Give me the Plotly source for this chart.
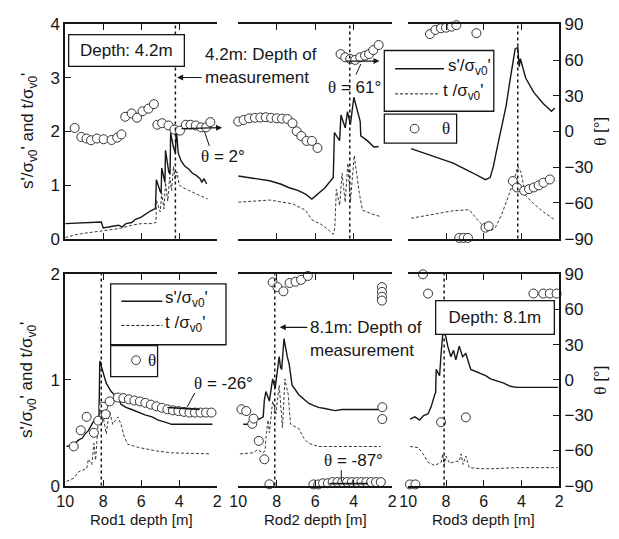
import plotly.graph_objects as go

W, H = 619, 539

# ------------------------------------------------------------------ data
MEAS_TOP = 4.2          # depth of measurement, upper row [m]
MEAS_BOT = 8.1          # depth of measurement, lower row [m]

DEPTH_TICKS = [10, 8, 6, 4, 2]
TOP_Y_TICKS = [0, 1, 2, 3, 4]
BOT_Y_TICKS = [0, 1, 2]
THETA_TICKS = [90, 60, 30, 0, -30, -60, -90]
ROD_LABELS = ["Rod1 depth [m]", "Rod2 depth [m]", "Rod3 depth [m]"]

# ---- upper row (depth 4.2 m) ----
top1_s_depth = [10.0, 9.0, 8.1, 8.0, 7.6, 7.2, 7.0, 6.8, 6.5, 6.3, 6.0, 5.8, 5.5, 5.25, 5.2, 5.0, 4.95, 4.92,
                4.75, 4.72, 4.55, 4.48, 4.45, 4.3, 4.2, 4.15, 4.05, 3.9, 3.7, 3.5, 3.3, 3.1, 2.9, 2.8, 2.7, 2.55]
top1_s = [0.28, 0.30, 0.31, 0.20, 0.22, 0.25, 0.22, 0.28, 0.30, 0.36, 0.40, 0.45, 0.52, 0.56, 1.10, 0.88, 0.85, 1.32,
          1.05, 1.65, 1.25, 1.20, 1.98, 1.70, 1.60, 2.05, 1.60, 1.45, 1.35, 1.30, 1.22, 1.18, 1.12, 1.05, 1.12, 1.02]
top1_t_depth = [10.0, 9.5, 9.0, 8.5, 8.0, 7.5, 7.0, 6.5, 6.0, 5.5, 5.22, 5.2, 5.0, 4.92, 4.8, 4.72, 4.6, 4.5,
                4.4, 4.3, 4.22, 4.12, 4.0, 3.8, 3.5, 3.2, 2.8, 2.5]
top1_t = [0.02, 0.07, 0.10, 0.12, 0.15, 0.17, 0.20, 0.25, 0.28, 0.28, 0.30, 0.72, 0.50, 0.85, 0.55, 1.05, 0.70, 1.15,
          0.90, 1.35, 1.10, 1.25, 1.00, 0.95, 0.90, 0.85, 0.78, 0.74]
top1_th_depth = [9.5, 9.15, 8.88, 8.64, 8.33, 7.98, 7.56, 7.26, 7.04, 6.84, 6.5, 6.22, 5.93, 5.62, 5.33, 5.15,
                 4.9, 4.56, 4.25, 3.96, 3.65, 3.4, 3.13, 2.84, 2.58, 2.36]
top1_th = [3, -4.6, -5.9, -7.3, -5.9, -6.5, -7.1, -5.1, -2.4, 12.4, 15.2, 11.6, 17, 19.2, 23, 5.7,
           7, 5.1, 1.6, 0.8, 5.7, 5.7, 5.1, 3.5, 3.5, 7.9]

top2_s_depth = [10.0, 9.2, 8.37, 7.8, 7.35, 6.9, 6.5, 6.17, 5.9, 5.49, 5.06, 5.0, 4.73, 4.66, 4.44, 4.32, 4.17,
                3.99, 3.66, 3.63, 3.29, 2.95, 2.7]
top2_s = [1.17, 1.12, 1.08, 1.02, 0.95, 0.90, 0.83, 0.74, 0.83, 0.95, 1.14, 1.98, 1.83, 2.31, 2.07, 2.37, 2.13,
          2.64, 2.19, 1.92, 1.83, 1.71, 1.72]
top2_t_depth = [10.0, 8.37, 7.18, 6.5, 6.17, 5.66, 5.24, 5.06, 4.98, 4.9, 4.73, 4.6, 4.44, 4.3, 4.17, 3.97,
                3.71, 3.54, 3.12, 2.6]
top2_t = [0.68, 0.72, 0.65, 0.53, 0.35, 0.26, 0.14, 0.08, 0.20, 0.92, 0.62, 1.22, 0.68, 1.41, 0.68, 1.55,
          0.86, 0.53, 0.47, 0.41]
top2_th_depth = [10.0, 9.72, 9.43, 9.13, 8.85, 8.57, 8.29, 8.0, 7.72, 7.44, 7.18, 6.96, 6.72, 6.45, 6.17, 5.88,
                 4.68, 4.44, 4.18, 3.92, 3.66, 3.41, 3.2, 2.98, 2.7]
top2_th = [8.4, 9.7, 11.1, 11.5, 11.8, 12, 11.5, 11.1, 10.8, 10.5, 7, 0.2, -3.8, -7.9, -7.9, -13.8,
           65.1, 62.4, 61, 60.2, 62.4, 63.8, 65.1, 68.4, 72.7]

top3_s_depth = [9.85, 8.82, 7.62, 6.6, 5.91, 5.66, 5.49, 5.32, 5.06, 4.81, 4.63, 4.46, 4.34, 4.2, 4.12, 4.06,
                3.78, 3.35, 2.84, 2.41, 2.24]
top3_s = [1.68, 1.56, 1.41, 1.23, 1.10, 1.14, 1.35, 1.65, 2.07, 2.49, 2.91, 3.27, 3.54, 3.57, 3.21, 3.36,
          3.0, 2.73, 2.52, 2.38, 2.44]
top3_t_depth = [9.85, 8.82, 7.62, 6.77, 6.26, 5.91, 5.66, 5.4, 5.06, 4.63, 4.38, 4.2, 4.02, 3.78, 3.35, 2.84, 2.24]
top3_t = [0.38, 0.44, 0.52, 0.54, 0.32, 0.20, 0.14, 0.20, 0.44, 0.86, 1.10, 1.35, 1.23, 0.80, 0.65, 0.50, 0.35]
top3_th_depth = [8.85, 8.56, 8.27, 8.0, 7.71, 7.45, 6.39, 7.3, 7.07, 6.84, 5.91, 5.74, 4.46, 4.24, 3.86, 3.6,
                 3.35, 3.09, 2.84, 2.5]
top3_th = [81.9, 85.4, 86.8, 87.3, 88.1, 89.4, 82.7, -89.4, -89.4, -89.4, -80.8, -79.5, -41.6, -47, -49.7, -48.4,
           -47, -45.2, -43, -40.3]

# ---- lower row (depth 8.1 m) ----
bot1_s_depth = [9.93, 9.55, 9.3, 9.1, 8.95, 8.78, 8.6, 8.44, 8.3, 8.22, 8.18, 8.0, 7.84, 7.58, 7.4, 7.23, 7.06,
                6.8, 6.5, 6.12, 5.8, 5.43, 5.1, 4.74, 4.4, 3.5, 2.25]
bot1_s = [0.37, 0.39, 0.43, 0.45, 0.49, 0.52, 0.58, 0.63, 0.62, 0.66, 1.18, 1.07, 0.97, 0.89, 0.86, 0.83, 0.77,
          0.74, 0.72, 0.69, 0.67, 0.65, 0.62, 0.60, 0.58, 0.58, 0.58]
bot1_t_depth = [9.93, 9.55, 9.3, 8.87, 8.78, 8.6, 8.49, 8.4, 8.26, 8.12, 8.0, 7.84, 7.67, 7.5, 7.23, 7.06,
                6.89, 6.7, 6.12, 5.26, 4.4, 2.33]
bot1_t = [0.04, 0.07, 0.13, 0.16, 0.25, 0.20, 0.40, 0.24, 0.61, 0.77, 0.65, 0.49, 0.71, 0.58, 0.65, 0.58,
          0.46, 0.39, 0.36, 0.33, 0.31, 0.30]
bot1_th_depth = [9.55, 9.18, 8.87, 8.49, 8.26, 8.0, 7.87, 7.66, 7.23, 6.94, 6.65, 6.36, 6.07, 5.78, 5.49, 5.2,
                 4.91, 4.62, 4.33, 4.04, 3.75, 3.46, 3.17, 2.88, 2.59, 2.3]
bot1_th = [-56.6, -42.9, -31.4, -45, -34.7, -22.8, -29.2, -18.3, -15, -15.5, -16.5, -17.5, -18.3, -19.5, -21,
           -22.5, -23.7, -25, -25.9, -26.5, -27.2, -27.8, -27.8, -27.8, -27.8, -27.8]

bot2_s_depth = [9.74, 9.4, 9.15, 8.9, 8.7, 8.64, 8.56, 8.45, 8.38, 8.21, 8.12, 8.08, 7.87, 7.8, 7.74, 7.62,
                7.45, 7.35, 7.2, 6.85, 6.6, 6.34, 6.1, 5.83, 5.5, 4.98, 4.6, 4.13, 2.6]
bot2_s = [0.58, 0.58, 0.63, 0.63, 0.65, 0.81, 0.89, 0.82, 0.80, 1.01, 0.95, 0.92, 1.22, 1.12, 1.10, 1.39,
          1.22, 1.15, 0.95, 0.86, 0.82, 0.78, 0.76, 0.74, 0.73, 0.71, 0.72, 0.72, 0.72]
bot2_t_depth = [9.91, 9.23, 8.98, 8.72, 8.6, 8.56, 8.45, 8.38, 8.21, 8.04, 7.87, 7.7, 7.57, 7.4, 7.28, 6.85,
                6.6, 6.34, 5.83, 4.5, 2.6]
bot2_t = [0.30, 0.31, 0.34, 0.31, 0.33, 0.45, 0.62, 0.50, 0.80, 0.68, 0.95, 0.55, 1.01, 0.86, 0.58, 0.54,
          0.45, 0.40, 0.37, 0.37, 0.37]
bot2_th_depth = [8.21, 7.96, 7.65, 7.33, 7.02, 6.73, 6.38, 2.53, 2.53, 2.53, 2.53, 9.83, 9.58, 9.27, 9.2, 8.93,
                 8.64, 8.38, 2.51, 2.51, 6.09, 5.84, 5.59, 5.34, 5.09, 4.84, 4.59, 4.34, 4.09, 3.84, 3.59,
                 3.34, 3.09, 2.84, 2.59]
bot2_th = [83.2, 79.1, 75.5, 82.6, 83.7, 85.3, 88.6, 79.1, 75, 70.9, 67.6, -25, -26.5, -37.4, -33, -51.9,
           -67.6, -88.9, -23.2, -33.3, -89, -89, -88, -88, -87, -87, -87, -87, -87, -87, -87,
           -87, -87, -87, -87]

bot3_s_depth = [9.91, 9.65, 9.4, 9.2, 8.95, 8.78, 8.6, 8.55, 8.52, 8.34, 8.26, 8.17, 8.08, 7.91, 7.74, 7.6,
                7.48, 7.3, 7.12, 6.95, 6.69, 6.4, 6.16, 5.9, 5.64, 5.3, 4.94, 4.6, 4.25, 2.07]
bot3_s = [0.63, 0.65, 0.62, 0.66, 0.68, 0.75, 0.86, 0.88, 1.10, 1.04, 1.25, 1.44, 1.47, 1.32, 1.22, 1.28,
          1.19, 1.32, 1.22, 1.25, 1.10, 1.08, 1.06, 1.04, 1.01, 0.99, 0.97, 0.94, 0.93, 0.93]
bot3_t_depth = [9.91, 9.48, 9.22, 8.95, 8.6, 8.26, 8.17, 8.1, 8.0, 7.8, 7.5, 7.3, 7.2, 7.1, 6.95, 6.77,
                6.16, 5.46, 4.25, 2.07]
bot3_t = [0.37, 0.36, 0.30, 0.22, 0.19, 0.22, 0.30, 0.19, 0.28, 0.21, 0.23, 0.23, 0.30, 0.20, 0.28, 0.17,
          0.16, 0.16, 0.17, 0.17]
bot3_th_depth = [9.22, 8.95, 8.26, 6.95, 9.91, 9.62, 3.37, 2.85, 2.5, 2.14]
bot3_th = [90, 73.6, -36, -31.9, -89, -89, 73.6, 73.6, 73.6, 73.6]

# ------------------------------------------------------------------ style
SANS = "Liberation Sans, Arial, sans-serif"
SERIF = "Liberation Serif, Times New Roman, serif"
INK = "#161616"
TH = '<span style="font-family:Liberation Serif">θ</span>'

COLS_PX = [(57.5, 213.0), (234.5, 392.0), (408.5, 563.0)]
ROWS_PX = [(16.0, 238.0), (275.0, 494.0)]


def fx(p):
    return p / W


def fy(p):
    return 1 - p / H


def aid(n):
    return "" if n == 1 else str(n)


panels = [
    (top1_s_depth, top1_s, top1_t_depth, top1_t, top1_th_depth, top1_th),
    (top2_s_depth, top2_s, top2_t_depth, top2_t, top2_th_depth, top2_th),
    (top3_s_depth, top3_s, top3_t_depth, top3_t, top3_th_depth, top3_th),
    (bot1_s_depth, bot1_s, bot1_t_depth, bot1_t, bot1_th_depth, bot1_th),
    (bot2_s_depth, bot2_s, bot2_t_depth, bot2_t, bot2_th_depth, bot2_th),
    (bot3_s_depth, bot3_s, bot3_t_depth, bot3_t, bot3_th_depth, bot3_th),
]

fig = go.Figure()
layout_axes = {}
shapes = []
tickfont = dict(family=SANS, size=16, color=INK)

for r in range(2):
    for c in range(3):
        k = r * 3 + c + 1
        sd, sv, td, tv, hd, hv = panels[k - 1]
        xa, ya, ya2 = "x" + aid(k), "y" + aid(k), "y" + str(k + 6)
        fig.add_trace(go.Scatter(x=sd, y=sv, xaxis=xa, yaxis=ya, mode="lines",
                                 line=dict(color=INK, width=1.4), showlegend=False))
        fig.add_trace(go.Scatter(x=td, y=tv, xaxis=xa, yaxis=ya, mode="lines",
                                 line=dict(color="#3a3a3a", width=1, dash="3px,2px"), showlegend=False))
        fig.add_trace(go.Scatter(x=hd, y=hv, xaxis=xa, yaxis=ya2, mode="markers", cliponaxis=False,
                                 marker=dict(symbol="circle", size=9, color="white",
                                             line=dict(color="#333333", width=1)),
                                 showlegend=False))

        x0, x1 = COLS_PX[c]
        yt, yb = ROWS_PX[r]
        ymax = 4 if r == 0 else 2
        layout_axes["xaxis" + aid(k)] = dict(
            domain=[fx(x0), fx(x1)], anchor=ya, range=[10, 2], tickvals=DEPTH_TICKS,
            ticks="inside", ticklen=6, tickwidth=1.3, tickcolor=INK,
            showline=True, linewidth=1.6, linecolor=INK, mirror="ticks",
            showgrid=False, zeroline=False, showticklabels=(r == 1), tickfont=tickfont)
        layout_axes["yaxis" + aid(k)] = dict(
            domain=[fy(yb), fy(yt)], anchor=xa, range=[0, ymax],
            tickvals=TOP_Y_TICKS if r == 0 else BOT_Y_TICKS, visible=(c == 0),
            ticks="inside", ticklen=6, tickwidth=1.3, tickcolor=INK,
            showline=True, linewidth=1.6, linecolor=INK, mirror=False,
            showgrid=False, zeroline=False, tickfont=dict(family=SANS, size=17, color=INK))
        layout_axes["yaxis" + str(k + 6)] = dict(
            overlaying=ya, anchor=xa, side="right", range=[-90, 90], tickvals=THETA_TICKS,
            visible=(c == 2), ticks="inside", ticklen=6, tickwidth=1.3, tickcolor=INK,
            showline=True, linewidth=1.6, linecolor=INK, showgrid=False, zeroline=False,
            tickfont=dict(family=SANS, size=17, color=INK))
        meas = MEAS_TOP if r == 0 else MEAS_BOT
        shapes.append(dict(type="line", xref=xa, yref=ya + " domain", x0=meas, x1=meas, y0=0, y1=1,
                           line=dict(color=INK, width=1.5, dash="dot")))


def prect(x0, y0, x1, y1):
    return dict(type="rect", xref="paper", yref="paper", x0=fx(x0), x1=fx(x1), y0=fy(y1), y1=fy(y0),
                line=dict(color=INK, width=1.3), fillcolor="white", layer="above")


def pline(x0, y0, x1, y1, dash="solid", width=1.2):
    return dict(type="line", xref="paper", yref="paper", x0=fx(x0), x1=fx(x1), y0=fy(y0), y1=fy(y1),
                line=dict(color=INK, width=width, dash=dash), layer="above")


def pcircle(cx, cy, rad=4.5):
    return dict(type="circle", xref="paper", yref="paper", x0=fx(cx - rad), x1=fx(cx + rad),
                y0=fy(cy + rad), y1=fy(cy - rad), line=dict(color="#333333", width=1),
                fillcolor="white", layer="above")


# legends (upper and lower)
shapes += [
    prect(384, 43, 496, 106), pline(395, 62, 445, 62, width=1.4), pline(395, 88, 440, 88, dash="3px,2px", width=1),
    prect(384, 109, 458, 139), pcircle(415, 124),
    prect(104, 285, 222, 348), pline(115, 303, 157, 303, width=1.4), pline(115, 328, 157, 328, dash="3px,2px", width=1),
    prect(104, 349, 152, 381), pcircle(130, 364),
]
# θ pointer lines and direction vectors
shapes += [
    pline(200, 127, 205, 142, width=1), pline(360, 57, 355, 68, width=1),
    pline(190, 398, 182, 413, width=1), pline(162, 413, 195, 415, width=1.6),
    pline(340, 478, 340, 490, width=1), pline(328, 492, 367, 492, width=1.6),
]


def txt(x, y, text, size=17, xanchor="center", angle=0, family=SANS):
    return dict(x=fx(x), y=fy(y), xref="paper", yref="paper", text=text, showarrow=False,
                xanchor=xanchor, yanchor="middle", textangle=angle,
                font=dict(family=family, size=size, color=INK))


def arrow(hx, hy, tx, ty):
    return dict(x=fx(hx), y=fy(hy), xref="paper", yref="paper", ax=tx - hx, ay=ty - hy,
                axref="pixel", ayref="pixel", text="", showarrow=True, arrowhead=2, arrowsize=1,
                arrowwidth=1.2, arrowcolor=INK)


def boxed(cx, cy, text, w, h):
    return dict(x=fx(cx), y=fy(cy), xref="paper", yref="paper", text=text, showarrow=False,
                xanchor="center", yanchor="middle",
                font=dict(family=SANS, size=17, color=INK), bgcolor="white", bordercolor=INK,
                borderwidth=1.3, width=w, height=h, borderpad=2)


SV = "s'/σ<sub>v0</sub>'"
TV = "t /σ<sub>v0</sub>'"
annotations = [
    boxed(120, 42.5, "Depth: 4.2m", 110, 26),
    boxed(497.5, 320, "Depth: 8.1m", 113, 28),
    txt(199, 47, "4.2m: Depth of", xanchor="left"),
    txt(199, 71, "measurement", xanchor="left"),
    txt(306, 330, "8.1m: Depth of", xanchor="left"),
    txt(306, 354, "measurement", xanchor="left"),
    arrow(172, 71, 198, 71),
    arrow(277, 330, 306, 330),
    arrow(218, 123, 176, 124),
    arrow(379, 54, 344, 54),
    txt(219, 153, TH + " = 2°"),
    txt(353, 81, TH + " = 61°"),
    txt(219, 388, TH + " = -26°"),
    txt(352, 468, TH + " = -87°"),
    # legend labels
    txt(447, 60, SV, xanchor="left"), txt(442, 86, TV, xanchor="left"),
    txt(447, 124, "θ", family=SERIF),
    txt(158, 301, SV, xanchor="left"), txt(158, 326, TV, xanchor="left"),
    txt(146, 364, "θ", family=SERIF),
    # axis titles
    txt(20, 127, "s'/σ<sub>v0</sub>' and t/σ<sub>v0</sub>'", angle=-90),
    txt(20, 385, "s'/σ<sub>v0</sub>' and t/σ<sub>v0</sub>'", angle=-90),
    txt(605, 127, TH + " [°]", angle=-90),
    txt(605, 385, TH + " [°]", angle=-90),
]
for c in range(3):
    x0, x1 = COLS_PX[c]
    annotations.append(txt((x0 + x1) / 2, 529, ROD_LABELS[c], size=15))

fig.update_layout(
    width=W, height=H, autosize=False, margin=dict(l=0, r=0, t=0, b=0),
    paper_bgcolor="white", plot_bgcolor="rgba(0,0,0,0)", showlegend=False,
    shapes=shapes, annotations=annotations, **layout_axes)

fig.write_html("out.html")
